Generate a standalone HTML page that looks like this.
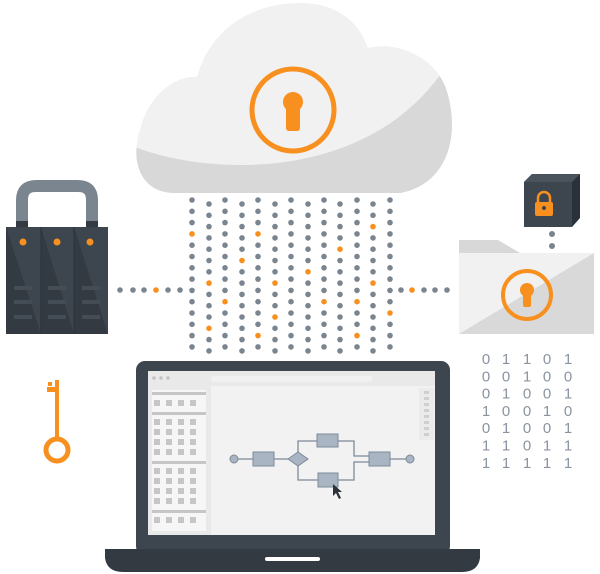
<!DOCTYPE html>
<html><head><meta charset="utf-8"><style>html,body{margin:0;padding:0;background:#fff}svg{display:block}</style></head>
<body>
<svg width="600" height="574" viewBox="0 0 600 574" xmlns="http://www.w3.org/2000/svg" font-family="Liberation Sans, sans-serif">
<!-- Cloud -->
<defs><clipPath id="cc"><path d="M175,193 C140,193 130,160 140,130 C150,90 180,75 197,77 C210,30 250,3 300,3 C340,3 360,25 368,48 C400,40 440,60 448,95 C460,140 445,185 400,193 Z"/></clipPath>
<clipPath id="fc"><rect x="459" y="253" width="135" height="81"/></clipPath></defs>
<g clip-path="url(#cc)">
<rect x="130" y="0" width="330" height="200" fill="#f1f1f1"/>
<path d="M130,145 C200,175 360,185 440,75 L470,75 L470,200 L130,200 Z" fill="#d8d8d8"/>
</g>
<circle cx="293" cy="110" r="41" fill="none" stroke="#f7901e" stroke-width="5"/>
<circle cx="293" cy="102" r="10" fill="#f7901e"/>
<rect x="286" y="104" width="14" height="27" rx="3" fill="#f7901e"/>
<!-- dots -->
<g id="dots"></g>
<!-- lock server -->
<path d="M22,228 L22,200 Q22,186 36,186 L78,186 Q92,186 92,200 L92,228" fill="none" stroke="#7a8590" stroke-width="12"/>
<rect x="16" y="221" width="12" height="8" fill="#333a42"/><rect x="86" y="221" width="12" height="8" fill="#333a42"/>
<rect x="6" y="227" width="102" height="107" fill="#333a42"/>
<path d="M6,227 L41,227 L41,334 Z M41,227 L74,227 L74,334 Z M74,227 L108,227 L108,334 Z" fill="#3d454e"/>
<path d="M41,227V334M74,227V334" stroke="#2b3138" stroke-width="1"/>
<g fill="#444c55"><rect x="14" y="286" width="18" height="4"/><rect x="14" y="300" width="18" height="4"/><rect x="14" y="315" width="18" height="4"/>
<rect x="48" y="286" width="18" height="4"/><rect x="48" y="300" width="18" height="4"/><rect x="48" y="315" width="18" height="4"/>
<rect x="82" y="286" width="18" height="4"/><rect x="82" y="300" width="18" height="4"/><rect x="82" y="315" width="18" height="4"/></g>
<g fill="#f7901e"><circle cx="23" cy="242" r="3.5"/><circle cx="57" cy="242" r="3.5"/><circle cx="90" cy="242" r="3.5"/></g>
<!-- key -->
<rect x="55" y="380" width="4" height="60" fill="#f7901e"/>
<rect x="47" y="387" width="8" height="5" fill="#f7901e"/><rect x="48" y="382" width="4" height="4" fill="#f7901e"/>
<circle cx="57" cy="450" r="11" fill="none" stroke="#f7901e" stroke-width="5"/>
<!-- cube -->
<path d="M524,182 L532,174 L580,174 L580,218 L572,227 Z" fill="#2b3138"/>
<path d="M524,182 L532,174 L580,174 L572,182 Z" fill="#4a525b"/>
<rect x="524" y="182" width="48" height="45" fill="#3d454e"/>
<path d="M538,203 V198 a6,6 0 0 1 12,0 V203" fill="none" stroke="#f7901e" stroke-width="2.5"/>
<rect x="535" y="202" width="18" height="14" rx="2" fill="#f7901e"/>
<circle cx="544" cy="208" r="2" fill="#3d454e"/>
<circle cx="552" cy="234" r="3" fill="#7a8590"/><circle cx="552" cy="246" r="3" fill="#7a8590"/>
<!-- folder -->
<path d="M459,240 L498,240 L520,253 L459,253 Z" fill="#d8d8d8"/>
<g clip-path="url(#fc)"><rect x="459" y="253" width="135" height="81" fill="#f1f1f1"/><path d="M459,334 L594,253 L594,334 Z" fill="#d9d9d9"/></g>
<circle cx="527" cy="295" r="24" fill="none" stroke="#f7901e" stroke-width="4"/>
<circle cx="527" cy="290" r="7" fill="#f7901e"/><rect x="523" y="290" width="8" height="17" rx="2" fill="#f7901e"/>
<!-- binary -->
<g fill="#8a94a0" font-size="15" text-anchor="middle" id="bin"></g>
<!-- laptop -->
<rect x="136" y="361" width="314" height="194" rx="9" fill="#3d454e"/>
<path d="M105,549 L480,549 L480,558 Q478,572 462,572 L123,572 Q107,572 105,558 Z" fill="#333a42"/>
<rect x="265" y="557" width="55" height="4" rx="2" fill="#fff"/>
<rect x="148" y="371" width="287" height="164" fill="#e9e9e9"/>
<rect x="211" y="386" width="224" height="149" fill="#f2f2f2"/>
<rect x="211" y="376" width="161" height="6" rx="2" fill="#f1f1f1"/>
<g fill="#c4c4c4"><circle cx="154" cy="378" r="1.8"/><circle cx="161" cy="378" r="1.8"/><circle cx="168" cy="378" r="1.8"/></g>
<rect x="152" y="390" width="54" height="141" fill="#f6f6f6"/>
<g fill="#c6c6c6"><rect x="152" y="392" width="54" height="3"/><rect x="152" y="412" width="54" height="3"/><rect x="152" y="461" width="54" height="3"/><rect x="152" y="510" width="54" height="3"/></g>
<g id="sq" fill="#c6c6c6"></g>
<rect x="419" y="388" width="15" height="52" fill="#ebebeb"/>
<g fill="#cfcfcf"><rect x="424" y="391" width="5" height="3"/><rect x="424" y="397" width="5" height="3"/><rect x="424" y="403" width="5" height="3"/><rect x="424" y="409" width="5" height="3"/><rect x="424" y="415" width="5" height="3"/><rect x="424" y="421" width="5" height="3"/><rect x="424" y="427" width="5" height="3"/><rect x="424" y="433" width="5" height="3"/></g>
<g stroke="#7d8a99" stroke-width="1.3" fill="none">
<path d="M238,459 H253 M274,459 H288 M298,452 V441 H317 M298,466 V480 H318 M338,441 H354 V456 H369 M338,480 H354 V462 H369 M390,459 H406"/>
</g>
<g fill="#a9b5c2" stroke="#7d8a99" stroke-width="1">
<circle cx="234" cy="459" r="4"/><circle cx="410" cy="459" r="4"/>
<rect x="253" y="452" width="21" height="14"/><rect x="317" y="434" width="21" height="13"/><rect x="318" y="473" width="20" height="14"/><rect x="369" y="452" width="21" height="14"/>
<path d="M288,459 L298,452 L308,459 L298,466 Z"/>
</g>
<path d="M333,484 L333,496 L336,493 L339,499 L341,498 L338,492 L342,492 Z" fill="#2b3138"/>
<script>
(function(){var ns="http://www.w3.org/2000/svg";var g=document.getElementById('dots');
var xs=[192,209,225,242,258,275,291,308,324,340,357,373,390];
var or={0:[3],1:[7,11],2:[9],3:[5],4:[3,12],5:[7,10],7:[6],8:[9],9:[4],10:[9,12],11:[2,7],12:[10]};
function c(x,y,o){var e=document.createElementNS(ns,'circle');e.setAttribute('cx',x);e.setAttribute('cy',y);e.setAttribute('r',2.8);e.setAttribute('fill',o?'#f7901e':'#7a8590');g.appendChild(e);}
xs.forEach(function(x,i){var y0=i%2?204:200;for(var r=0;r<14;r++){c(x,y0+r*11.3,(or[i]||[]).indexOf(r)>=0);}});
[120,133,144,156,168,180].forEach(function(x){c(x,290,x==156)});
[401,412,424,435,447].forEach(function(x){c(x,290,x==412)});
var b=document.getElementById('bin');var rows=["01101","00100","01001","10010","01001","11011","11111"];var bx=[486,506,527,547,568];
rows.forEach(function(r,j){for(var k=0;k<5;k++){var t=document.createElementNS(ns,'text');t.setAttribute('x',bx[k]);t.setAttribute('y',364+j*17.3);t.textContent=r[k];b.appendChild(t);}});
var s=document.getElementById('sq');var ry=[403,422,432,442,452,471,481,491,501,520];var cx=[157,169,181,193];
ry.forEach(function(y){cx.forEach(function(x){var e=document.createElementNS(ns,'rect');e.setAttribute('x',x-3);e.setAttribute('y',y-3);e.setAttribute('width',6);e.setAttribute('height',6);s.appendChild(e);});});
})();
</script>
</svg>
</body></html>
